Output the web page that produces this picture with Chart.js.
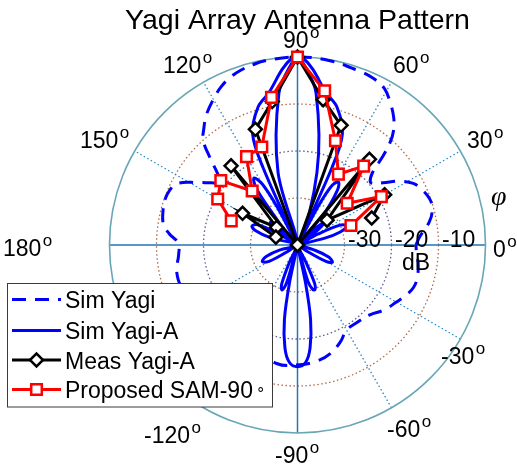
<!DOCTYPE html>
<html>
<head>
<meta charset="utf-8">
<script src="https://cdn.jsdelivr.net/npm/chart.js@4/dist/chart.umd.min.js"></script>
<style>
  html, body { margin: 0; padding: 0; background: #fff; }
  canvas { display: block; }
</style>
</head>
<body>
<canvas id="c" width="517" height="470"></canvas>
<script>
// Radial range (dB): centre of the plot is -40 dB, outer ring is 0 dB
const R_MIN = -40;
const R_MAX = 0;
const RING_LEVELS = [-30, -20, -10];
const RING_TICKS = ['-30', '-20', '-10'];
const ANGLE_TICKS = ['0', '30', '60', '90', '120', '150', '180', '-150', '-120', '-90', '-60', '-30'];

const SERIES_NAMES = ['Sim Yagi', 'Sim Yagi-A', 'Meas Yagi-A', 'Proposed SAM-90'];

// Sim Yagi (dashed): angle in degrees, gain in dB
const SIM_YAGI_ANG = [0, 4, 10, 15, 19, 24, 28, 32, 36, 39, 41, 44, 46, 48, 50, 53, 57, 61, 66, 71, 80, 90,
  100, 104, 108, 112, 116, 120, 125, 129, 132, 135, 138, 141, 144, 148, 153, 157, 161, 166, 171, 175, 179,
  185, 192, 200, 210, 220, 228, 240, 250, 260, 271, 280, 287, 294, 300, 308, 316, 323, 330, 335, 340, 345, 351, 356, 360];
const SIM_YAGI_DB = [-14.8, -13.9, -11.5, -10.3, -10.2, -11, -12.1, -14.4, -17.5, -19.2, -19.5, -17.8, -14, -10.5, -8.2, -6, -3.8, -1.9, -1, -0.7, -0.2, 0,
  -0.2, -0.5, -0.9, -1.6, -2.7, -4.2, -6.2, -8.3, -10, -13.6, -17, -18.9, -17.5, -14.9, -11.2, -10.4, -10.2, -10.5, -11.1, -12.6, -14.6,
  -14.6, -13.7, -13.8, -15.5, -18, -18.8, -19, -16.5, -14.4, -14.5, -15, -15.9, -17.5, -19.1, -19.2, -18.6, -17, -15.7, -14.6, -13.7, -13.6, -14, -14.6, -14.8];

// Sim Yagi-A (solid), traced lobe by lobe
const SIM_A_ANG = [0,
  14, 17, 21, 25, 28, 31,
  36, 40, 44, 47,
  50, 54, 57, 60, 62, 63,
  66, 68, 74, 79.4, 85, 88, 90, 92, 95, 100.6, 106, 112, 114, 117,
  118, 120, 123, 126, 128, 130,
  105, 97, 92, 90, 88, 83, 75, 72,
  136, 140, 144, 147,
  150, 153, 157.5, 161, 165, 168,
  196, 200, 205, 210, 214, 216,
  245, 248, 251, 254, 256,
  258, 260, 263, 266, 270, 274, 277, 280, 282, 284,
  286, 289, 291.5, 294, 296, 298,
  326, 330, 334, 339, 343, 346, 360];
const SIM_A_DB = [-40,
  -34, -30.5, -28.7, -30, -35, -40,
  -35, -32.5, -36, -40,
  -31, -25.5, -24, -25.5, -31, -40,
  -22, -14.5, -9.5, -7, -2.5, -0.4, 0, -0.4, -2.5, -7, -9.5, -14.5, -22, -40,
  -31, -25, -23, -25, -31, -40,
  -24, -7.5, -1.5, -0.5, -1.5, -7.5, -24, -40,
  -36, -32.5, -35, -40,
  -35, -30.5, -29.5, -30.5, -34, -40,
  -36, -33, -31.7, -33, -38, -40,
  -36, -31, -29.9, -32, -40,
  -32, -24, -18, -15, -14.1, -15, -18, -24, -32, -40,
  -32, -30, -29.8, -31, -36, -40,
  -38, -33, -31.7, -33, -36, -40, -40];

// Measured Yagi-A
const MEAS_ANG = [20, 30, 40, 50, 60, 70, 80, 90, 100, 110, 120, 130, 140, 150, 160];
const MEAS_DB = [-23.2, -18.6, -31.8, -16.2, -40, -12.9, -8.6, 0, -9.0, -13.8, -40, -18.0, -34.2, -26.5, -35.1];

// Proposed SAM-90
const SAM_ANG = [20, 30, 40, 50, 60, 70, 80, 90, 100, 110, 120, 130, 140, 150, 160];
const SAM_DB = [-27.9, -19.4, -26.2, -18.1, -22.6, -16.4, -6.7, 0, -8.1, -17.8, -18.3, -25.0, -18.7, -20.4, -25.0];

// polar (deg, dB) -> cartesian value pair for the linear x/y scales
function toXY(angles, dbs) {
  return angles.map((a, i) => {
    const r = Math.max(0, dbs[i] - R_MIN);
    const t = a * Math.PI / 180;
    return { x: r * Math.cos(t), y: r * Math.sin(t) };
  });
}

const BLUE = '#0000ff';
const RED = '#ff0000';
const FONT = "'Liberation Sans', Arial, Helvetica, sans-serif";

// label layout: [text, left x, baseline y]
const ANGLE_LABEL_POS = {
  '90': [283, 48], '120': [163, 73], '60': [393, 73], '150': [80, 148], '30': [467, 148],
  '180': [3, 256], '0': [493, 257], '-30': [441, 364], '-60': [387, 437], '-90': [275, 463],
  '-120': [144, 443], '-150': [60, 364]
};

const polarGrid = {
  id: 'polarGrid',
  beforeDatasetsDraw(chart) {
    const ctx = chart.ctx;
    const xs = chart.scales.x, ys = chart.scales.y;
    const cx = xs.getPixelForValue(0), cy = ys.getPixelForValue(0);
    const R = xs.getPixelForValue(R_MAX - R_MIN) - cx;
    const span = R_MAX - R_MIN;
    ctx.save();
    // dotted rings
    const ringColors = ['#a86a4a', '#5c5a96', '#b06a48'];
    RING_LEVELS.forEach((lv, i) => {
      const r = R * (lv - R_MIN) / span;
      ctx.beginPath();
      ctx.setLineDash([1.5, 2.5]);
      ctx.lineWidth = 1.3;
      ctx.strokeStyle = ringColors[i];
      ctx.arc(cx, cy, r, 0, Math.PI * 2);
      ctx.stroke();
    });
    // dotted spokes at 30/60/120/150
    ctx.strokeStyle = '#2a86c4';
    ctx.setLineDash([1.5, 2.5]);
    ctx.lineWidth = 1.3;
    [30, 60, 120, 150].forEach(a => {
      const t = a * Math.PI / 180;
      ctx.beginPath();
      ctx.moveTo(cx - R * Math.cos(t), cy + R * Math.sin(t));
      ctx.lineTo(cx + R * Math.cos(t), cy - R * Math.sin(t));
      ctx.stroke();
    });
    // solid main axes
    ctx.setLineDash([]);
    ctx.strokeStyle = '#2277b6';
    ctx.lineWidth = 1.5;
    ctx.beginPath();
    ctx.moveTo(cx - R, cy); ctx.lineTo(cx + R, cy);
    ctx.moveTo(cx, cy - R); ctx.lineTo(cx, cy + R);
    ctx.stroke();
    // outer circle
    ctx.strokeStyle = '#68a6b6';
    ctx.lineWidth = 1.6;
    ctx.beginPath();
    ctx.arc(cx, cy, R, 0, Math.PI * 2);
    ctx.stroke();
    ctx.restore();
  },
  afterDraw(chart) {
    const ctx = chart.ctx;
    const xs = chart.scales.x;
    const cx = xs.getPixelForValue(0);
    const R = xs.getPixelForValue(R_MAX - R_MIN) - cx;
    ctx.save();
    ctx.fillStyle = '#000';
    ctx.textBaseline = 'alphabetic';
    ctx.textAlign = 'left';
    // title
    ctx.font = '28.5px ' + FONT;
    ctx.textAlign = 'center';
    ctx.fillText('Yagi Array Antenna Pattern', 297.5, 28.5);
    ctx.textAlign = 'left';
    // angle labels with superscript degree
    ANGLE_TICKS.forEach(t => {
      const p = ANGLE_LABEL_POS[t];
      ctx.font = '23px ' + FONT;
      ctx.fillText(t, p[0], p[1]);
      const w = ctx.measureText(t).width;
      ctx.font = '17px ' + FONT;
      ctx.fillText('o', p[0] + w + 1.5, p[1] - 10);
    });
    // ring labels
    ctx.font = '23px ' + FONT;
    RING_LEVELS.forEach((lv, i) => {
      const r = R * (lv - R_MIN) / (R_MAX - R_MIN);
      ctx.fillText(RING_TICKS[i], cx + r + 3.5, 247);
    });
    ctx.fillText('dB', 402, 270);
    // phi
    ctx.font = "italic 28px 'Liberation Serif', 'DejaVu Serif', serif";
    ctx.fillText('\u03C6', 491, 205);
    // legend box
    const lx = 7.5, ly = 283.5, lw = 265, lh = 123.5;
    ctx.fillStyle = '#fff';
    ctx.fillRect(lx, ly, lw, lh);
    ctx.strokeStyle = '#3a3a3a';
    ctx.lineWidth = 1;
    ctx.strokeRect(lx, ly, lw, lh);
    const rowsY = [299.5, 330.5, 360, 389.5];
    const ds = chart.data.datasets;
    const legendOrder = [0, 1, 2, 3];
    legendOrder.forEach((di, row) => {
      const d = ds[di];
      const y = rowsY[row];
      ctx.save();
      ctx.strokeStyle = d.borderColor;
      ctx.lineWidth = d.borderWidth;
      ctx.setLineDash(d.borderDash || []);
      ctx.beginPath();
      ctx.moveTo(12, y); ctx.lineTo(61, y);
      ctx.stroke();
      ctx.restore();
      if (d.pointRadius > 0) {
        Chart.helpers.drawPoint(ctx, {
          pointStyle: d.pointStyle, radius: d.pointRadius, rotation: 0,
          borderWidth: d.pointBorderWidth
        }, 36.5, y);
        ctx.save();
        ctx.fillStyle = d.pointBackgroundColor;
        ctx.strokeStyle = d.pointBorderColor;
        ctx.lineWidth = d.pointBorderWidth;
        ctx.setLineDash([]);
        Chart.helpers.drawPoint(ctx, {
          pointStyle: d.pointStyle, radius: d.pointRadius, rotation: 0,
          borderWidth: d.pointBorderWidth
        }, 36.5, y);
        ctx.restore();
      }
      ctx.fillStyle = '#000';
      ctx.font = '23px ' + FONT;
      ctx.fillText(SERIES_NAMES[di], 65, y + 8.5);
      if (di === 3) {
        const w = ctx.measureText(SERIES_NAMES[di]).width;
        ctx.font = '15px ' + FONT;
        ctx.fillText('\u2218', 65 + w + 3, y + 4.5);
      }
    });
    ctx.restore();
  }
};

const chart = new Chart(document.getElementById('c'), {
  type: 'scatter',
  data: {
    datasets: [
      {
        label: SERIES_NAMES[0],
        data: toXY(SIM_YAGI_ANG, SIM_YAGI_DB),
        showLine: true, tension: 0.4,
        borderColor: BLUE, borderWidth: 3, borderDash: [14, 9],
        pointRadius: 0, order: 4, clip: false
      },
      {
        label: SERIES_NAMES[1],
        data: toXY(SIM_A_ANG, SIM_A_DB),
        showLine: true, tension: 0.35,
        borderColor: BLUE, borderWidth: 3,
        pointRadius: 0, order: 3, clip: false
      },
      {
        label: SERIES_NAMES[2],
        data: toXY(MEAS_ANG, MEAS_DB),
        showLine: true, tension: 0,
        borderColor: '#000', borderWidth: 3,
        pointStyle: 'rectRot', pointRadius: 6.5, pointBorderWidth: 2.5,
        pointBorderColor: '#000', pointBackgroundColor: '#fff',
        order: 2, clip: false
      },
      {
        label: SERIES_NAMES[3],
        data: toXY(SAM_ANG, SAM_DB),
        showLine: true, tension: 0,
        borderColor: RED, borderWidth: 3,
        pointStyle: 'rect', pointRadius: 7.5, pointBorderWidth: 2.5,
        pointBorderColor: RED, pointBackgroundColor: '#fff',
        order: 1, clip: false
      }
    ]
  },
  options: {
    responsive: false,
    animation: false,
    events: [],
    layout: { padding: { left: 109.5, right: 31.5, top: 57, bottom: 37 } },
    scales: {
      x: { type: 'linear', min: -40, max: 40, display: false },
      y: { type: 'linear', min: -40, max: 40, display: false }
    },
    plugins: {
      legend: { display: false },
      title: { display: false },
      tooltip: { enabled: false }
    }
  },
  plugins: [polarGrid]
});
</script>
</body>
</html>
